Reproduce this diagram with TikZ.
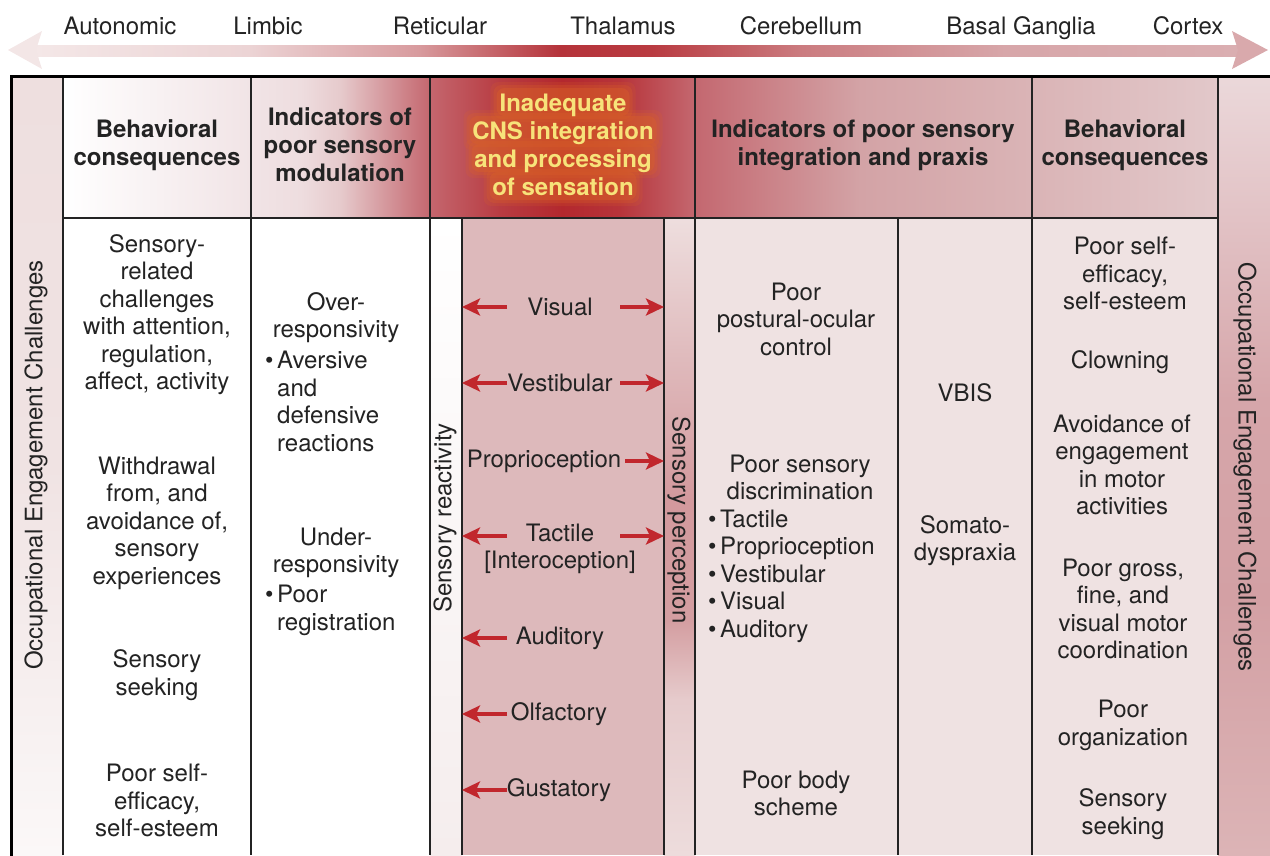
\documentclass[tikz,border=0pt]{standalone}
\usepackage{fontspec}
\setmainfont{TeX Gyre Heros}
\usetikzlibrary{arrows.meta,calc}

\definecolor{inkc}{HTML}{232323}
\definecolor{arrc}{HTML}{C1272D}
\definecolor{dbody}{HTML}{DDB9BB}
\definecolor{ebody}{HTML}{EFE2E2}
\definecolor{capy}{HTML}{F7E37A}
\definecolor{glowc}{HTML}{DA6228}
\definecolor{headl}{HTML}{F3E6E6}
\definecolor{headr}{HTML}{D9A9AC}
% top arrow
\definecolor{sa1}{HTML}{F4E7E7}
\definecolor{sa2}{HTML}{ECD4D5}
\definecolor{sa3}{HTML}{D89B9E}
\definecolor{sa4}{HTML}{B5333A}
\definecolor{sa5}{HTML}{B93B41}
\definecolor{sa6}{HTML}{CB7C80}
\definecolor{sa7}{HTML}{D7A6A9}
\definecolor{sa8}{HTML}{DAAEB1}
% header row
\definecolor{hr1}{HTML}{FFFFFF}
\definecolor{hr2}{HTML}{F1E4E6}
\definecolor{hr3}{HTML}{EEDDDF}
\definecolor{hr4}{HTML}{E6CACC}
\definecolor{hr5}{HTML}{C4666E}
\definecolor{hr6}{HTML}{B83C42}
\definecolor{hr7}{HTML}{B3282E}
\definecolor{hr8}{HTML}{B7343A}
\definecolor{hr9}{HTML}{C46870}
\definecolor{hr10}{HTML}{D3A3A6}
\definecolor{hr11}{HTML}{DAB4B6}
\definecolor{hr12}{HTML}{E2C8CA}
% side columns
\definecolor{ca1}{HTML}{FBF8F8}
\definecolor{ca2}{HTML}{F0E3E3}
\definecolor{ca3}{HTML}{EEDFDF}
\definecolor{cg1}{HTML}{DCB4B6}
\definecolor{cg2}{HTML}{D3A0A4}
\definecolor{cg3}{HTML}{D6A6AA}
\definecolor{cg4}{HTML}{EBD8DA}
\definecolor{cp1}{HTML}{EDDCDC}
\definecolor{cp2}{HTML}{E6CBCC}
\definecolor{cp3}{HTML}{D49EA1}
\definecolor{cp4}{HTML}{D3999D}
\definecolor{cp5}{HTML}{E0BCBE}
\definecolor{cp6}{HTML}{EEDEDE}
\definecolor{cr1}{HTML}{F5EDED}
\definecolor{cr2}{HTML}{FFFFFF}

\pgfdeclarehorizontalshading{spectrum}{100bp}{color(0bp)=(sa1); color(25bp)=(sa1);
  color(33.8bp)=(sa2); color(40.9bp)=(sa3); color(46.8bp)=(sa4); color(50.6bp)=(sa5);
  color(56.9bp)=(sa6); color(65.3bp)=(sa7); color(75bp)=(sa8); color(100bp)=(sa8)}
\pgfdeclarehorizontalshading{headrow}{100bp}{color(0bp)=(hr1); color(25bp)=(hr1);
  color(33.1bp)=(hr2); color(35.3bp)=(hr3); color(37bp)=(hr4); color(40.9bp)=(hr5);
  color(43.9bp)=(hr6); color(46.6bp)=(hr7); color(49.1bp)=(hr8); color(52.4bp)=(hr9);
  color(59.5bp)=(hr10); color(66.9bp)=(hr11); color(75bp)=(hr12); color(100bp)=(hr12)}
\pgfdeclareverticalshading{leftcol}{100bp}{color(0bp)=(ca1); color(25bp)=(ca1);
  color(50bp)=(ca2); color(75bp)=(ca3); color(100bp)=(ca3)}
\pgfdeclareverticalshading{rightcol}{100bp}{color(0bp)=(cg1); color(25bp)=(cg1);
  color(41.4bp)=(cg2); color(54.2bp)=(cg3); color(75bp)=(cg4); color(100bp)=(cg4)}
\pgfdeclareverticalshading{perccol}{100bp}{color(0bp)=(cp1); color(25bp)=(cp1);
  color(37.2bp)=(cp2); color(43.4bp)=(cp3); color(52.9bp)=(cp4); color(64.6bp)=(cp5);
  color(75bp)=(cp6); color(100bp)=(cp6)}
\pgfdeclareverticalshading{reactcol}{100bp}{color(0bp)=(cr1); color(25bp)=(cr1);
  color(75bp)=(cr2); color(100bp)=(cr2)}

\begin{document}
\begin{tikzpicture}[x=1pt, y=-1pt,
    txt/.style={font=\fontsize{24}{27.5}\selectfont, text=inkc, align=center, inner sep=0pt},
    hdr/.style={txt, font=\fontsize{24}{28}\selectfont\bfseries},
    lst/.style={txt, align=left, anchor=west},
    sarr/.style={draw=arrc, line width=3.4pt, -{Stealth[length=18pt,width=17pt,inset=4pt]}},
    tabline/.style={draw=inkc, line width=1.3pt},
    outerline/.style={draw=black, line width=3pt}]
    \newcommand*{\blt}{\makebox[12pt][l]{\textbullet}}
    \newcommand*{\bpad}{\hspace*{12pt}}

    \useasboundingbox (0,0) rectangle (1270,855);

    % spectrum arrow
    \shade[shading=spectrum] (36,45) rectangle (1238,56);
    \fill[headl] (8,50) -- (42,31) -- (36,50) -- (42,69) -- cycle;
    \fill[headr] (1268,50) -- (1232,31) -- (1238,50) -- (1232,69) -- cycle;
    \node[txt, anchor=base] (auto) at (120,34) {Autonomic};
    \node[txt, anchor=base] (limb) at (268,34) {Limbic};
    \node[txt, anchor=base] (reti) at (440,34) {Reticular};
    \node[txt, anchor=base] (thal) at (623,34) {Thalamus};
    \node[txt, anchor=base] (cere) at (801,34) {Cerebellum};
    \node[txt, anchor=base] (basg) at (1021,34) {Basal Ganglia};
    \node[txt, anchor=base] (cort) at (1188,34) {Cortex};

    % fills
    \shade[shading=leftcol] (11,76) rectangle (63,855);
    \shade[shading=headrow] (63,76) rectangle (1218,218);
    \fill[white] (63,218) rectangle (430,855);
    \shade[shading=reactcol] (430,218) rectangle (462,855);
    \fill[dbody] (462,218) rectangle (664,855);
    \shade[shading=perccol] (664,218) rectangle (695,855);
    \fill[ebody] (695,218) rectangle (1218,855);
    \shade[shading=rightcol] (1218,76) rectangle (1270,855);

    % rules
    \foreach \x in {63,251,430,695,1032,1218}
        \draw[tabline] (\x,76) -- (\x,855);
    \foreach \x in {462,664,898}
        \draw[tabline] (\x,218) -- (\x,855);
    \draw[tabline] (63,218) -- (1218,218);
    \draw[outerline] (10,76) -- (1270,76);
    \draw[outerline] (11,76) -- (11,856);

    % headers
    \node[hdr] (hb) at (157,145) {Behavioral\\consequences};
    \node[hdr] (hc) at (340,145) {Indicators of\\poor sensory\\modulation};
    % glow behind the yellow title
    \foreach \w/\y in {127/102, 181/130, 177/158, 141/186}
        \foreach \p/\o in {9/0.18, 6/0.25, 3/0.35}
            \fill[glowc, opacity=\o, rounded corners=8pt]
                (563-\w/2-\p, \y-11-\p) rectangle (563+\w/2+\p, \y+11+\p);
    \node[hdr, text=capy] (hd) at (563,145) {Inadequate\\CNS integration\\and processing\\of sensation};
    \node[hdr] (he) at (863,145) {Indicators of poor sensory\\integration and praxis};
    \node[hdr] (hf) at (1125,145) {Behavioral\\consequences};

    % side labels
    \node[txt, rotate=90] (occl) at (36,465) {Occupational Engagement Challenges};
    \node[txt, rotate=-90] (occr) at (1245,467) {Occupational Engagement Challenges};
    \node[txt, rotate=90] (react) at (445,518) {Sensory reactivity};
    \node[txt, rotate=-90] (perc) at (679,520) {Sensory perception};

    % behavioral consequences (left)
    \node[txt] (b1) at (157,314.5) {Sensory-\\related\\challenges\\with attention,\\regulation,\\affect, activity};
    \node[txt] (b2) at (157,523) {Withdrawal\\from, and\\avoidance of,\\sensory\\experiences};
    \node[txt] (b3) at (157,675) {Sensory\\seeking};
    \node[txt] (b4) at (157,800.5) {Poor self-\\efficacy,\\self-esteem};

    % modulation
    \node[txt] (c1) at (336,317.5) {Over-\\responsivity};
    \node[lst] (c1l) at (265,401.5) {\blt Aversive\\\bpad and\\\bpad defensive\\\bpad reactions};
    \node[txt] (c2) at (336,553) {Under-\\responsivity};
    \node[lst] (c2l) at (265,610.5) {\blt Poor\\\bpad registration};

    % senses
    \coordinate (rl) at (462,218);
    \coordinate (pl) at (664,218);
    \coordinate (ls) at (507,218);
    \coordinate (rs) at (620,218);
    \node[txt] (vis) at (560,307) {Visual};
    \node[txt] (ves) at (560,383) {Vestibular};
    \node[txt] (pro) at (544,461) {Proprioception};
    \node[txt] (tac) at (560,549) {Tactile\\{[Interoception]}};
    \node[txt] (aud) at (560,638) {Auditory};
    \node[txt] (olf) at (559,714) {Olfactory};
    \node[txt] (gus) at (559,790) {Gustatory};
    \foreach \s in {vis,ves} {
        \draw[sarr] (\s -| ls) -- (\s -| rl);
        \draw[sarr] (\s -| rs) -- (\s -| pl);
    }
    \draw[sarr] (pro.east) ++(4pt,0) -- (pro -| pl);
    \coordinate (tacy) at (560,536);
    \draw[sarr] (tacy -| ls) -- (tacy -| rl);
    \draw[sarr] (tacy -| rs) -- (tacy -| pl);
    \foreach \s in {aud,olf,gus}
        \draw[sarr] (\s -| ls) -- (\s -| rl);

    % integration and praxis
    \node[txt] (e1) at (796,319) {Poor\\postural-ocular\\control};
    \node[txt] (e2) at (800,477.5) {Poor sensory\\discrimination};
    \node[lst] (e2l) at (708,576) {\blt Tactile\\\blt Proprioception\\\blt Vestibular\\\blt Visual\\\blt Auditory};
    \node[txt] (e3) at (796,793.5) {Poor body\\scheme};
    \node[txt] (vbis) at (965,393) {VBIS};
    \node[txt] (somd) at (965,540.5) {Somato-\\dyspraxia};

    % behavioral consequences (right)
    \node[txt] (f1) at (1125,273.5) {Poor self-\\efficacy,\\self-esteem};
    \node[txt] (f2) at (1120,362) {Clowning};
    \node[txt] (f3) at (1122,465) {Avoidance of\\engagement\\in motor\\activities};
    \node[txt] (f4) at (1123,609) {Poor gross,\\fine, and\\visual motor\\coordination};
    \node[txt] (f5) at (1123,725.5) {Poor\\organization};
    \node[txt] (f6) at (1123,814) {Sensory\\seeking};

\end{tikzpicture}
\end{document}
